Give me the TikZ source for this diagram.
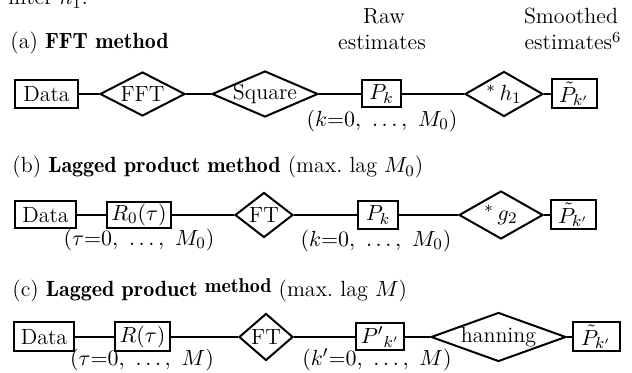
\documentclass[tikz,border=0pt]{standalone}
\usetikzlibrary{shapes.geometric}
\newcommand\demib[1]{{\fontseries{b}\selectfont #1}}
\begin{document}
\begin{tikzpicture}[x=0.5pt,y=-0.5pt,
  every node/.style={font=\fontsize{11}{13}\selectfont, inner sep=0pt},
  box/.style={draw, rectangle, line width=1pt},
  dia/.style={draw, diamond, line width=1pt},
  conn/.style={line width=1pt},
  txt/.style={anchor=base}]
\useasboundingbox (0,0) rectangle (632,373);

% top cut text and column headings
\node[anchor=base west] (filt) at (8,5) {filter $h_1$.};
\node[txt] (raw1) at (384,24) {Raw};
\node[txt] (raw2) at (382,50) {estimates};
\node[txt] (sm1) at (571,24) {Smoothed};
\node[txt] (sm2) at (573,50) {estimates\textsuperscript{6}};

% ---- row (a)
\node[anchor=base west] (hA) at (10,49) {(a)\ \demib{FFT method}};
\node[box, minimum width=31.5pt, minimum height=14pt] (dA) at (46.5,94) {Data};
\node[dia, minimum width=42.5pt, minimum height=22pt, label=center:FFT] (fA) at (142.5,94) {};
\node[dia, minimum width=53pt, minimum height=23pt, label=center:Square] (sA) at (265,94) {};
\node[box, minimum width=19.5pt, minimum height=13.5pt] (pA) at (381.5,94) {$P_k$};
\node[dia, minimum width=39pt, minimum height=22.5pt, label=center:{$^{\ast}\,h_1$}] (hA1) at (504,94) {};
\node[box, minimum width=22.5pt, minimum height=14.5pt] (tA) at (574,94) {$\tilde P_{k'}$};
\node (kA) at (382,121) {$(k{=}0,\ \ldots,\ M_0)$};
\draw[conn] (dA) -- (fA) -- (sA) -- (pA) -- (hA1) -- (tA);

% ---- row (b)
\node[anchor=base west] (hB) at (12,173) {(b)\ \demib{Lagged product method}\ (max.\ lag $M_0$)};
\node[box, minimum width=30.5pt, minimum height=13.5pt] (dB) at (45.5,215) {Data};
\node[box, minimum width=32pt, minimum height=13pt] (rB) at (139,215) {$R_0(\tau)$};
\node[dia, minimum width=29pt, minimum height=22.5pt, label=center:FT] (fB) at (264,215) {};
\node[box, minimum width=20pt, minimum height=14pt] (pB) at (378,215) {$P_k$};
\node[dia, minimum width=42pt, minimum height=24pt, label=center:{$^{\ast}\,g_2$}] (gB) at (501,215) {};
\node[box, minimum width=22.5pt, minimum height=14.5pt] (tB) at (573,215) {$\tilde P_{k'}$};
\node (tauB) at (139,240) {$(\tau{=}0,\ \ldots,\ M_0)$};
\node (kB) at (376,241) {$(k{=}0,\ \ldots,\ M_0)$};
\draw[conn] (dB) -- (rB) -- (fB) -- (pB) -- (gB) -- (tB);

% ---- row (c)
\node[anchor=base west] (hC) at (12,297) {(c)\ \demib{Lagged product} \raisebox{2pt}{\fontsize{10}{12}\selectfont\demib{method}}\ (max.\ lag $M$)};
\node[box, minimum width=30pt, minimum height=14.5pt] (dC) at (44,337) {Data};
\node[box, minimum width=27.5pt, minimum height=14.5pt] (rC) at (142.5,337) {$R(\tau)$};
\node[dia, minimum width=27pt, minimum height=23.5pt, label=center:FT] (fC) at (266,337) {};
\node[box, minimum width=24pt, minimum height=13.5pt] (pC) at (380,337) {$P'{}_{k'}$};
\node[dia, minimum width=67.5pt, minimum height=24.5pt, label=center:hanning] (hnC) at (498.5,337) {};
\node[box, minimum width=23.5pt, minimum height=14.5pt] (tC) at (596,337) {$\tilde P_{k'}$};
\node (tauC) at (142,360) {$(\tau{=}0,\ \ldots,\ M)$};
\node (kC) at (377,360) {$(k'{=}0,\ \ldots,\ M)$};
\draw[conn] (dC) -- (rC) -- (fC) -- (pC) -- (hnC) -- (tC);
\end{tikzpicture}
\end{document}
